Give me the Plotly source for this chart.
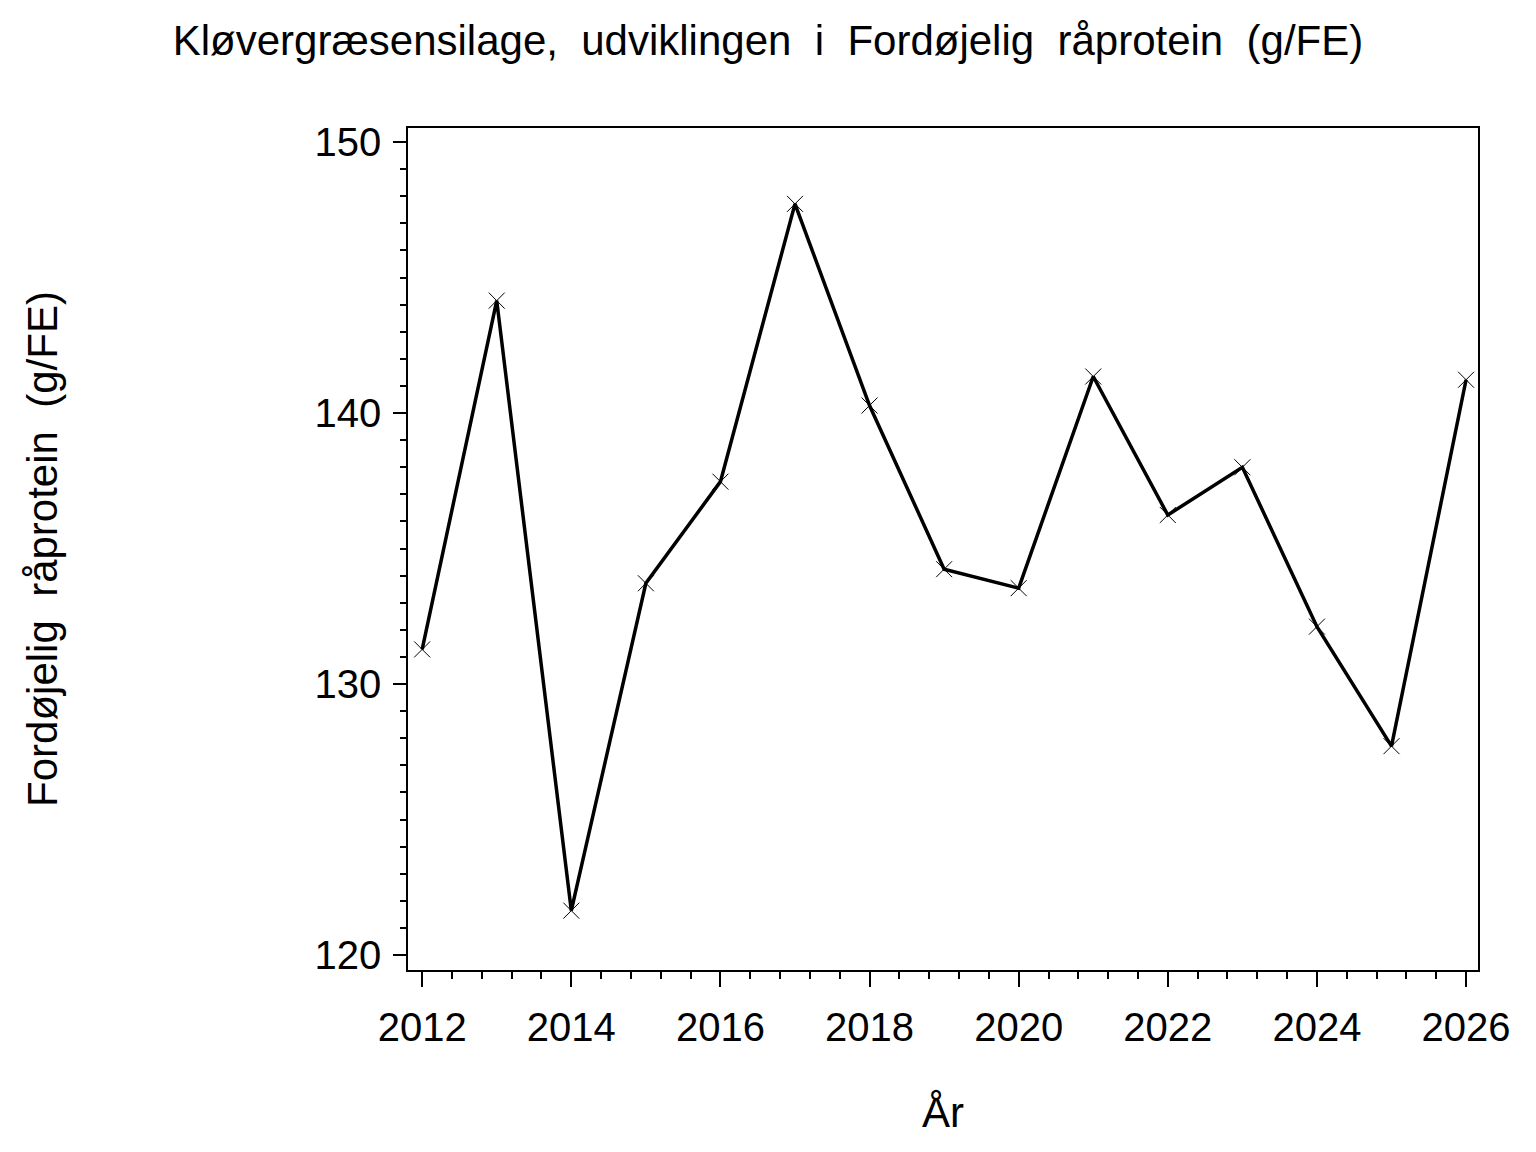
import plotly.graph_objects as go

# aar og fordoejelig raaprotein (g/FE), aflaest fra figuren
years = [2012, 2013, 2014, 2015, 2016, 2017, 2018, 2019, 2020, 2021, 2022, 2023, 2024, 2025, 2026]
protein = [131.28, 144.15, 121.64, 133.72, 137.47, 147.72, 140.28, 134.24, 133.54,
           141.35, 136.24, 138.0, 132.12, 127.71, 141.23]

title_text = "Kløvergræsensilage,  udviklingen  i  Fordøjelig  råprotein  (g/FE)"
ytitle_text = "Fordøjelig  råprotein  (g/FE)"
xtitle_text = "År"


def nb(s):
    # keep the wide gaps between words
    return s.replace(" ", "\u00a0")


font_name = "Liberation Sans, Arial, sans-serif"

trace = go.Scatter(
    x=years,
    y=protein,
    mode="lines+markers",
    line=dict(color="black", width=3.5),
    marker=dict(symbol="x-thin", size=16, line=dict(color="black", width=1)),
    showlegend=False,
    hoverinfo="x+y",
)

# page has an 8px body margin, so the figure is a bit smaller than the window
layout = go.Layout(
    width=1520,
    height=1136,
    paper_bgcolor="white",
    plot_bgcolor="white",
    font=dict(family=font_name, color="black", size=38),
    title=dict(
        text=nb(title_text),
        x=0.5,
        xanchor="center",
        y=0.972,
        yanchor="middle",
        font=dict(size=42),
    ),
    margin=dict(l=400, r=50, t=120, b=174),
    xaxis=dict(
        range=[2011.81, 2026.16],
        tick0=2012,
        dtick=2,
        ticks="outside",
        ticklen=15,
        tickwidth=1.5,
        tickcolor="black",
        ticklabelstandoff=6,
        showline=True,
        linecolor="black",
        linewidth=1.5,
        mirror=True,
        showgrid=False,
        zeroline=False,
        tickfont=dict(size=40),
        minor=dict(ticks="outside", ticklen=7, tickwidth=1.5, tickcolor="black",
                   tick0=2012, dtick=0.4, showgrid=False),
        title=dict(text=nb(xtitle_text), font=dict(size=42), standoff=50),
    ),
    yaxis=dict(
        range=[119.45, 150.52],
        tick0=120,
        dtick=10,
        ticks="outside",
        ticklen=13,
        tickwidth=1.5,
        tickcolor="black",
        ticklabelstandoff=4,
        showline=True,
        linecolor="black",
        linewidth=1.5,
        mirror=True,
        showgrid=False,
        zeroline=False,
        tickfont=dict(size=40),
        minor=dict(ticks="outside", ticklen=6, tickwidth=1.5, tickcolor="black",
                   tick0=120, dtick=1, showgrid=False),
        title=dict(text=nb(ytitle_text), font=dict(size=42), standoff=244),
    ),
)

fig = go.Figure(data=[trace], layout=layout)
fig.write_html("out.html")
